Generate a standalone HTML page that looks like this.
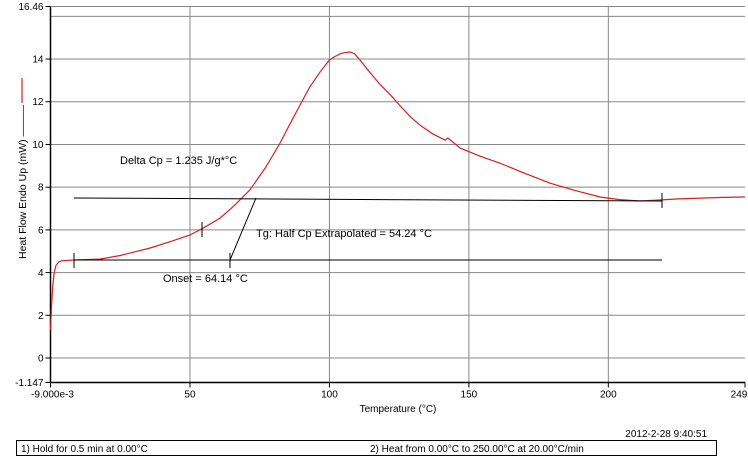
<!DOCTYPE html>
<html><head><meta charset="utf-8"><style>
body{margin:0;background:#fff;}
svg{display:block;font-family:"Liberation Sans",Arial,sans-serif;}
</style></head><body>
<svg id="c" width="748" height="466">
<g id="grid"></g>
<g id="axes"></g>
<path id="curve" fill="none" stroke="#d42020" stroke-width="1.2"/>
<g stroke="#000" stroke-width="1">
<line x1="74" y1="198" x2="662" y2="201"/>
<line x1="74" y1="260" x2="662" y2="260"/>
<line x1="74" y1="253" x2="74" y2="268"/>
<line x1="202" y1="222" x2="202" y2="237"/>
<line x1="230" y1="253" x2="230" y2="268"/>
<line x1="662" y1="193" x2="662" y2="208"/>
<line x1="256" y1="198" x2="230" y2="260"/>
</g>
<text x="120" y="164" font-size="11">Delta Cp = 1.235 J/g*°C</text>
<text x="256" y="237" font-size="11">Tg: Half Cp Extrapolated = 54.24 °C</text>
<text x="163" y="282" font-size="11">Onset = 64.14 °C</text>
<line x1="22" y1="78" x2="22" y2="103" stroke="#d42020" stroke-width="1.2"/>
<text transform="translate(26,182) rotate(-90)" text-anchor="middle" font-size="10.5">Heat Flow Endo Up (mW) ———</text>
<text x="398" y="412" text-anchor="middle" font-size="10">Temperature (°C)</text>
<text x="707" y="437" text-anchor="end" font-size="10">2012-2-28 9:40:51</text>
<rect x="16.5" y="440.5" width="700" height="15" fill="none" stroke="#000"/>
<text x="21" y="452" font-size="10">1)  Hold for 0.5 min at 0.00°C</text>
<text x="370" y="452" font-size="10">2)   Heat from 0.00°C to 250.00°C at 20.00°C/min</text>
</svg>
<script>
const temps=[0,0.4,0.8,1.3,2,3,4,6.5,10,17.8,25,35.7,43,50,55,60.8,66,71.5,77,82.3,86,89.5,93,96.7,100,102,104,105.5,107.4,109,111,114,118,122,125.4,129,132.5,137,141.5,142.5,146.9,154,161,170,179,188,197,204,211.4,218.6,225,233,241,249];
const heat=[1.3,2.5,3.4,4.0,4.35,4.5,4.55,4.57,4.6,4.63,4.8,5.15,5.45,5.76,6.1,6.55,7.15,7.87,8.9,10.07,11.0,11.85,12.7,13.4,13.95,14.12,14.25,14.3,14.33,14.25,13.95,13.45,12.83,12.3,11.8,11.3,10.9,10.5,10.2,10.3,9.83,9.45,9.13,8.65,8.19,7.85,7.54,7.42,7.35,7.4,7.45,7.49,7.52,7.54];
const xTicks=[-0.009,50,100,150,200,249];
const xTickLabels=["-9.000e-3","50","100","150","200","249"];
const yTicks=[-1.147,0,2,4,6,8,10,12,14,16.46];
const yTickLabels=["-1.147","0","2","4","6","8","10","12","14","16.46"];
const yGrid=[0,2,4,6,8,10,12,14,16];
const X0=50.5,X1=745,Y0=382.5,Y1=6.5,xmin=-0.009,xmax=249,ymin=-1.147,ymax=16.46;
const sx=v=>X0+(v-xmin)/(xmax-xmin)*(X1-X0);
const sy=v=>Y0-(v-ymin)/(ymax-ymin)*(Y0-Y1);
const NS="http://www.w3.org/2000/svg";
function mk(t,p,a){const e=document.createElementNS(NS,t);for(const k in a)e.setAttribute(k,a[k]);p.appendChild(e);return e;}
const grid=document.getElementById('grid'),axes=document.getElementById('axes');
yGrid.forEach(v=>{const l=mk('line',grid,{x1:X0,x2:X1,y1:sy(v),y2:sy(v),stroke:'#888','stroke-width':1});

});
[50,100,150,200].forEach(v=>{const l=mk('line',grid,{x1:sx(v),x2:sx(v),y1:Y1,y2:Y0,stroke:'#888','stroke-width':1});

});
mk('line',axes,{x1:X0,x2:X0,y1:Y1,y2:Y0,stroke:'#000','stroke-width':1.5});
mk('line',axes,{x1:X0,x2:X1,y1:Y0,y2:Y0,stroke:'#000','stroke-width':1.5});
mk('line',axes,{x1:X0,x2:X1,y1:Y1,y2:Y1,stroke:'#888','stroke-width':1});
yTicks.forEach((v,i)=>{const y=sy(v);mk('line',axes,{x1:X0-5,x2:X0,y1:y,y2:y,stroke:'#000'});
const t=mk('text',axes,{x:X0-7,y:y+3.5,'text-anchor':'end','font-size':10});t.textContent=yTickLabels[i];

});
xTicks.forEach((v,i)=>{const x=sx(v);mk('line',axes,{x1:x,x2:x,y1:Y0,y2:Y0+5,stroke:'#000'});
const t=mk('text',axes,{x:i==0?x+2:(i==5?x-6:x),y:Y0+15,'text-anchor':'middle','font-size':10});t.textContent=xTickLabels[i];

});
document.getElementById('curve').setAttribute('d',temps.map((t,i)=>(i?'L':'M')+sx(t).toFixed(1)+','+sy(heat[i]).toFixed(1)).join(''));
</script>
</body></html>
